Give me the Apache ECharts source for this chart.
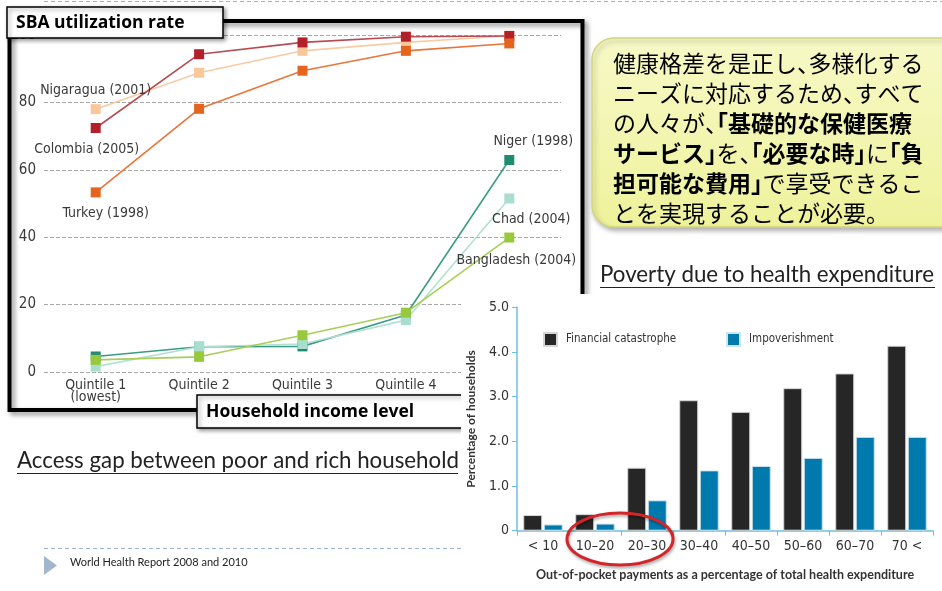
<!DOCTYPE html>
<html><head><meta charset="utf-8">
<script src="https://cdn.jsdelivr.net/npm/echarts@6/dist/echarts.min.js"></script>
<style>html,body{margin:0;padding:0;background:#fff}#c{width:942px;height:591px}</style>
</head><body><div id="c"></div>
<script>
// ---- Line chart data (SBA utilization rate by income quintile) ----
const quintiles = ['Quintile 1\n(lowest)', 'Quintile 2', 'Quintile 3', 'Quintile 4', 'Quintile 5'];
const nigaragua = [78.0, 88.8, 95.3, 97.8, 99.8];
const colombia  = [72.4, 94.3, 97.8, 99.5, 99.7];
const turkey    = [53.3, 78.1, 89.4, 95.3, 97.5];
const niger     = [4.6, 7.5, 7.6, 16.9, 62.9];
const chad      = [1.6, 7.5, 8.3, 15.4, 51.5];
const bangladesh= [3.6, 4.5, 10.9, 17.6, 39.9];
const lineNames = ['Nigaragua (2001)', 'Colombia (2005)', 'Turkey (1998)', 'Niger (1998)', 'Chad (2004)', 'Bangladesh (2004)'];
const sbaTicks = [0, 20, 40, 60, 80, 100];

// ---- Bar chart data (poverty due to health expenditure) ----
const oopCategories = ['< 10', '10–20', '20–30', '30–40', '40–50', '50–60', '60–70', '70 <'];
const catastrophe   = [0.35, 0.37, 1.41, 2.92, 2.66, 3.19, 3.52, 4.14];
const impoverish    = [0.14, 0.16, 0.68, 1.35, 1.45, 1.63, 2.10, 2.10];
const barNames = ['Financial catastrophe', 'Impoverishment'];

// ---- Callout text (runs: [text, bold]) ----
const calloutLines = [
  [['健康格差を是正し、多様化する', false]],
  [['ニーズに対応するため、すべて', false]],
  [['の人々が、', false], ['「基礎的な保健医療', true]],
  [['サービス」', true], ['を、', false], ['「必要な時」', true], ['に', false], ['「負', true]],
  [['担可能な費用」', true], ['で享受できるこ', false]],
  [['とを実現することが必要。', false]]
];

const NARROW = "'Liberation Sans Narrow','DejaVu Sans Condensed',sans-serif";
const CJK = "'Noto Sans CJK JP',sans-serif";

const chart = echarts.init(document.getElementById('c'));

function lineSeries(name, data, color, lineColor, labelIdx, labelPos, labelOffset) {
  return {
    type: 'line', name, xAxisIndex: 0, yAxisIndex: 0, z: 2,
    symbol: 'rect', symbolSize: 10,
    itemStyle: { color },
    lineStyle: { color: lineColor, width: 1.6 },
    data: data.map((v, i) => i === labelIdx ? {
      value: v,
      label: { show: true, position: labelPos, offset: labelOffset, formatter: name,
               fontFamily: NARROW, fontSize: 14, color: '#3a3a3a' }
    } : v),
    animation: false
  };
}

// lay out callout text with half-width punctuation (proportional CJK look)
function calloutGraphics() {
  const fs = 23, lh = 30, x0 = 613, y0 = 63;
  const out = [];
  calloutLines.forEach((runs, li) => {
    let x = x0;
    const y = y0 + li * lh;
    runs.forEach(([txt, bold]) => {
      const font = (bold ? 'bold ' : '') + fs + 'px ' + CJK;
      let buf = '', bx = x;
      const flush = () => {
        if (buf) out.push({ type: 'text', z: 7, x: bx, y, style: { text: buf, font, fill: '#000', verticalAlign: 'middle' } });
        buf = '';
      };
      for (const ch of txt) {
        if (ch === '「') {
          flush();
          out.push({ type: 'text', z: 7, x: x - fs / 2, y, style: { text: ch, font, fill: '#000', verticalAlign: 'middle' } });
          x += fs / 2; bx = x;
        } else if ('」、。'.includes(ch)) {
          flush();
          out.push({ type: 'text', z: 7, x: x, y, style: { text: ch, font, fill: '#000', verticalAlign: 'middle' } });
          x += fs / 2; bx = x;
        } else {
          if (!buf) bx = x;
          buf += ch; x += fs;
        }
      }
      flush();
    });
  });
  return out;
}

const option = {
  animation: false,
  grid: [
    { left: 44, top: 35, width: 517, height: 337 },
    { left: 517, top: 307.3, right: 9, bottom: 60.3 }
  ],
  xAxis: [
    { type: 'category', gridIndex: 0, data: quintiles, boundaryGap: true,
      axisLine: { show: false }, axisTick: { show: false },
      axisLabel: { fontFamily: NARROW, fontSize: 14, color: '#3a3a3a', lineHeight: 12, margin: 7 } },
    { type: 'category', gridIndex: 1, data: oopCategories, z: 10,
      axisLine: { lineStyle: { color: '#6cc0e2', width: 1.5 } },
      axisTick: { show: true, length: 5, lineStyle: { color: '#6cc0e2' } },
      axisLabel: { fontFamily: NARROW, fontSize: 14, color: '#333', margin: 9 },
      name: 'Out-of-pocket payments as a percentage of total health expenditure',
      nameLocation: 'middle', nameGap: 38,
      nameTextStyle: { fontFamily: "'Lato',sans-serif", fontWeight: 'bold', fontSize: 12.5, color: '#333' } }
  ],
  yAxis: [
    { type: 'value', gridIndex: 0, min: sbaTicks[0], max: sbaTicks[sbaTicks.length - 1], interval: 20,
      axisLine: { show: false }, axisTick: { show: false },
      axisLabel: { fontFamily: NARROW, fontSize: 15, color: '#3a3a3a', margin: 8 },
      splitLine: { lineStyle: { color: '#a8a8a8', type: [4, 2], width: 1 } } },
    { type: 'value', gridIndex: 1, min: 0, max: 5, interval: 1, z: 10,
      axisLine: { show: true, lineStyle: { color: '#6cc0e2', width: 1.5 } },
      axisTick: { show: true, length: 5, lineStyle: { color: '#6cc0e2' } },
      splitLine: { show: false },
      axisLabel: { fontFamily: NARROW, fontSize: 14, color: '#333', margin: 8,
                   formatter: v => v === 0 ? '0' : v.toFixed(1) },
      name: 'Percentage of households', nameLocation: 'middle', nameGap: 40, nameRotate: 90,
      nameTextStyle: { fontFamily: "'Lato',sans-serif", fontWeight: 'bold', fontSize: 12, color: '#333' } }
  ],
  legend: [
    { data: [barNames[0]], left: 538, top: 327, z: 10, itemWidth: 13, itemHeight: 13, icon: 'rect',
      textStyle: { fontFamily: NARROW, fontSize: 11.5, color: '#333', padding: [0, 0, 0, 4] } },
    { data: [barNames[1]], left: 721, top: 327, z: 10, itemWidth: 13, itemHeight: 13, icon: 'rect',
      textStyle: { fontFamily: NARROW, fontSize: 11.5, color: '#333', padding: [0, 0, 0, 4] } }
  ],
  series: [
    lineSeries(lineNames[0], nigaragua, '#f9c79a', '#f8cba4', 0, 'top', [0, -2]),
    lineSeries(lineNames[1], colombia, '#b3202a', '#b84a52', 0, 'bottom', [-9, 4]),
    lineSeries(lineNames[2], turkey, '#e5651e', '#e8753a', 0, 'bottom', [10, 4]),
    lineSeries(lineNames[3], niger, '#1e8c72', '#3b9c84', 4, 'top', [24, -2]),
    lineSeries(lineNames[4], chad, '#a8ddd0', '#b3e0d5', 4, 'bottom', [22, 4]),
    lineSeries(lineNames[5], bangladesh, '#98c93c', '#a6cf58', 4, 'bottom', [7, 6]),
    { type: 'bar', name: barNames[0], xAxisIndex: 1, yAxisIndex: 1, z: 10, data: catastrophe,
      barWidth: 19, barGap: '8%', itemStyle: { color: '#262626', borderColor: '#d6d6d6', borderWidth: 1 } },
    { type: 'bar', name: barNames[1], xAxisIndex: 1, yAxisIndex: 1, z: 10, data: impoverish,
      barWidth: 19, barGap: '8%', itemStyle: { color: '#0079ad', borderColor: '#cfe4ee', borderWidth: 1 } }
  ],
  graphic: [
    // top dashed line
    { type: 'line', z: 1, shape: { x1: 44, y1: 1.5, x2: 942, y2: 1.5 },
      style: { stroke: '#9fb4cc', lineWidth: 1, lineDash: [4, 3] } },
    // black frame of line chart
    { type: 'rect', z: 3, shape: { x: 9.5, y: 21, width: 573, height: 389 },
      style: { fill: null, stroke: '#000', lineWidth: 4, shadowBlur: 5, shadowOffsetX: 3, shadowOffsetY: 3, shadowColor: 'rgba(0,0,0,0.45)' } },
    // SBA title box
    { type: 'rect', z: 6, shape: { x: 7, y: 7, width: 216, height: 31 },
      style: { fill: '#fff', stroke: '#000', lineWidth: 1.5, shadowBlur: 4, shadowOffsetX: 2, shadowOffsetY: 2, shadowColor: 'rgba(0,0,0,0.4)' } },
    { type: 'text', z: 7, x: 16, y: 23,
      style: { text: 'SBA utilization rate', font: "bold 17.5px 'Open Sans',sans-serif", fill: '#000', verticalAlign: 'middle' } },
    // Household income level box
    { type: 'rect', z: 4, shape: { x: 197, y: 395, width: 300, height: 33 },
      style: { fill: '#fff', stroke: '#000', lineWidth: 1.5, shadowBlur: 4, shadowOffsetX: 2, shadowOffsetY: 2, shadowColor: 'rgba(0,0,0,0.4)' } },
    { type: 'text', z: 4, x: 206, y: 412,
      style: { text: 'Household income level', font: "bold 17.5px 'Open Sans',sans-serif", fill: '#000', verticalAlign: 'middle' } },
    // white panel for bar chart
    { type: 'rect', z: 5, shape: { x: 461, y: 294, width: 481, height: 297 },
      style: { fill: '#fff', stroke: null } },
    // yellow callout
    { type: 'rect', z: 6, shape: { x: 592, y: 38, width: 370, height: 189, r: 22 },
      style: { fill: new echarts.graphic.LinearGradient(0, 0, 0, 1, [{ offset: 0, color: '#f7f9c6' }, { offset: 1, color: '#eef29b' }]),
               stroke: '#d2d878', lineWidth: 1.5, shadowBlur: 5, shadowOffsetX: 2, shadowOffsetY: 3, shadowColor: 'rgba(0,0,0,0.3)' } },
    ...calloutGraphics(),
    // Poverty title
    { type: 'text', z: 7, x: 600, y: 275,
      style: { text: 'Poverty due to health expenditure', font: "22.3px 'Lato',sans-serif", fill: '#222', verticalAlign: 'middle' } },
    { type: 'line', z: 7, shape: { x1: 600, y1: 287.5, x2: 935, y2: 287.5 }, style: { stroke: '#222', lineWidth: 1 } },
    // Access gap title
    { type: 'text', z: 7, x: 17, y: 461,
      style: { text: 'Access gap between poor and rich household', font: "22.3px 'Lato',sans-serif", fill: '#222', verticalAlign: 'middle' } },
    { type: 'line', z: 7, shape: { x1: 17, y1: 473.5, x2: 458, y2: 473.5 }, style: { stroke: '#222', lineWidth: 1 } },
    // footer
    { type: 'line', z: 1, shape: { x1: 44, y1: 548.5, x2: 461, y2: 548.5 },
      style: { stroke: '#9fb4cc', lineWidth: 1, lineDash: [4, 3] } },
    { type: 'polygon', z: 1, shape: { points: [[44, 556], [57, 565.5], [44, 575]] }, style: { fill: '#a3b6cd' } },
    { type: 'text', z: 1, left: 70, top: 557,
      style: { text: 'World Health Report 2008 and 2010', font: "11px 'Lato',sans-serif", fill: '#222' } },
    // red ellipse
    { type: 'ellipse', z: 20, shape: { cx: 620, cy: 539, rx: 53, ry: 26 },
      style: { fill: null, stroke: '#d4252b', lineWidth: 3, shadowBlur: 3, shadowOffsetX: 1, shadowOffsetY: 2, shadowColor: 'rgba(0,0,0,0.35)' } }
  ]
};
chart.setOption(option);
</script></body></html>
